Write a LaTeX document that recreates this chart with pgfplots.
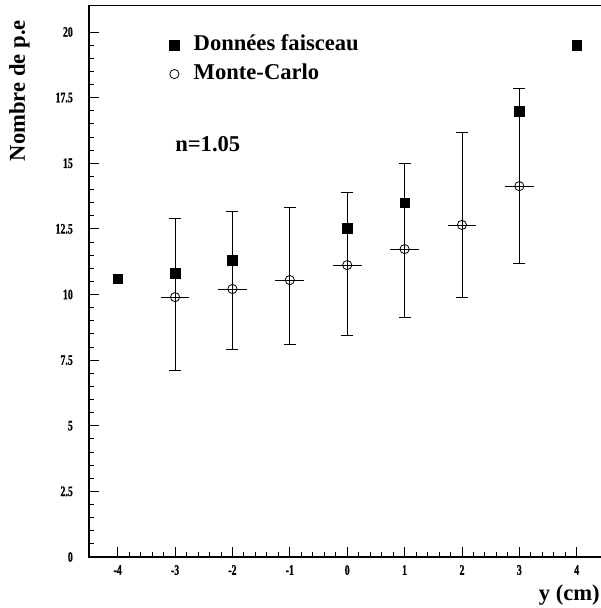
\documentclass[border=0pt]{standalone}
\usepackage{fontspec}
\setmainfont{Liberation Serif}
\newfontfamily\tickfont{Liberation Serif}[FakeStretch=0.68, FakeBold=0.8]
\usepackage{pgfplots}
\usepackage{pgfplotstable}
\pgfplotsset{compat=1.18}
\pgfplotstableread{
x y
-4 10.60
-3 10.82
-2 11.31
0 12.53
1 13.49
3 16.99
4 19.50
}\data
\pgfplotstableread{
x y ep em
-3 9.90 2.98 2.78
-2 10.21 2.97 2.29
-1 10.55 2.78 2.44
0 11.12 2.78 2.66
1 11.73 3.28 2.59
2 12.65 3.54 2.75
3 14.13 3.74 2.93
}\mc
\begin{document}
\begin{tikzpicture}
\begin{axis}[
  scale only axis,
  width=516.4pt, height=551.25pt,
  xmin=-4.5, xmax=4.5, ymin=0, ymax=21,
  axis line style={line width=1.1pt},
  tick pos=left, tick align=inside,
  major tick length=10pt, minor tick length=5pt,
  every tick/.style={black, line width=0.9pt},
  xtick={-4,-3,-2,-1,0,1,2,3,4},
  xticklabels={-4,-3,-2,-1,0,1,2,3,4},
  ytick={0,2.5,5,7.5,10,12.5,15,17.5,20},
  yticklabels={0,2.5,5,7.5,10,12.5,15,17.5,20},
  minor x tick num=4, minor y tick num=4,
  tick label style={font=\tickfont\bfseries\fontsize{14.5}{14.5}\selectfont, inner sep=0pt},
  yticklabel style={xshift=-16pt},
  xticklabel style={yshift=-8pt},
  xlabel={y (cm)},
  ylabel={Nombre de p.e},
  label style={font=\bfseries\fontsize{22.6}{26}\selectfont, inner sep=0pt},
  xlabel style={at={(rel axis cs:1,0)}, anchor=north east, xshift=-5.5pt, yshift=-28pt},
  ylabel style={at={(rel axis cs:0,0.974)}, anchor=east, yshift=69.5pt},
  legend style={draw=none, fill=none, at={(axis cs:-3.095,18.95)}, anchor=west,
    inner sep=0pt, outer sep=0pt, column sep=14.5pt, row sep=9pt,
    font=\bfseries\fontsize{22.6}{26}\selectfont,
    nodes={inner sep=0pt, text height=15pt, text depth=5pt}},
  legend cell align=left,
]
\addplot[only marks, mark=square*, mark size=4.8pt, black] table[x=x,y=y] {\data};
\addlegendentry{Données faisceau}
\addplot[forget plot, draw=none, mark=none,
  error bars/.cd, y dir=both, y explicit,
  error bar style={draw=black, line width=0.8pt},
  error mark options={draw=black, line width=0.8pt, mark size=6pt, rotate=90}]
  table[x=x, y=y, y error plus=ep, y error minus=em] {\mc};
\addplot[only marks, mark=o, mark size=4.6pt, black, mark options={fill=white, line width=0.8pt},
  error bars/.cd, x dir=both, x fixed=0.25, error mark=none,
  error bar style={draw=black, line width=0.8pt}]
  table[x=x, y=y] {\mc};
\addlegendentry{Monte-Carlo}
\node[anchor=base west, inner sep=0pt, font=\bfseries\fontsize{22.6}{26}\selectfont] at (axis cs:-3.0,15.43) {n=1.05};
\end{axis}
\pgfresetboundingbox
\path (current axis.south west) ++(-89pt,-51pt) rectangle ++(600pt,608pt);
\end{tikzpicture}
\end{document}
